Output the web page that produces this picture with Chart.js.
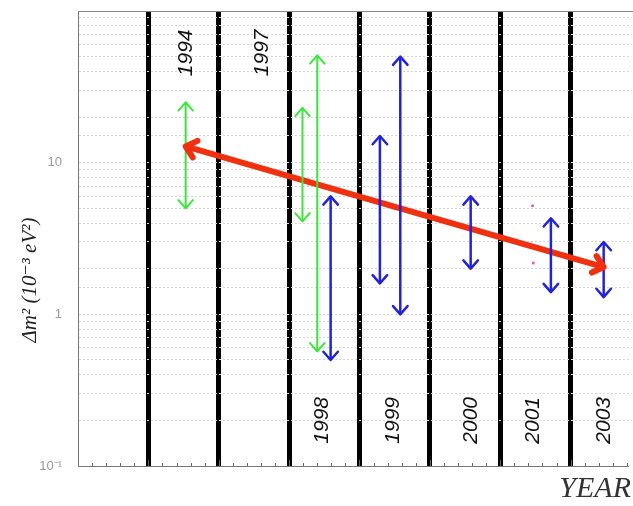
<!DOCTYPE html>
<html>
<head>
<meta charset="utf-8">
<script src="https://cdn.jsdelivr.net/npm/chart.js@4"></script>
<style>
  html, body { margin: 0; padding: 0; background: #fff; }
  canvas { display: block; }
</style>
</head>
<body>
<canvas id="chart" width="633" height="506"></canvas>
<script>
// measurement ranges (dm^2 in 1e-3 eV^2), one double arrow each
const arrowX = [1.53, 3.19, 3.40, 3.59, 4.29, 4.58, 5.58, 6.72, 7.47];
const arrowLow = [5.0, 4.1, 0.57, 0.5, 1.6, 1.0, 2.0, 1.4, 1.3];
const arrowHigh = [25, 23, 51, 6.0, 15, 50, 6.0, 4.3, 3.0];
const arrowKind = ['green', 'green', 'green', 'blue', 'blue', 'blue', 'blue', 'blue', 'blue'];

// red trend arrow
const trendX = [1.53, 7.47];
const trendY = [12.8, 2.05];

// stray pink points near 2001
const dotX = [6.46, 6.47];
const dotY = [5.2, 2.18];

// year labels
const years = ['1994', '1997', '1998', '1999', '2000', '2001', '2003'];
const yearX = [1.53, 2.62, 3.47, 4.48, 5.58, 6.47, 7.47];
const yearY = [53, 53, 0.2, 0.2, 0.2, 0.2, 0.2];

// y tick labels shown
const yTickLabels = { '0.1': '10⁻¹', '1': '1', '10': '10' };

const colors = { green: '#3ae63a', blue: '#2323d6', red: '#f0300f', pink: '#d860c8' };

const datasets = arrowX.map((x, i) => ({
  type: 'line',
  data: [{ x, y: arrowLow[i] }, { x, y: arrowHigh[i] }],
  borderColor: colors[arrowKind[i]],
  borderWidth: arrowKind[i] === 'blue' ? 2.5 : 2,
  pointRadius: 0,
  arrow: 11
}));

datasets.push({
  type: 'line',
  data: trendX.map((x, i) => ({ x, y: trendY[i] })),
  borderColor: colors.red,
  borderWidth: 6,
  pointRadius: 0,
  arrow: 13
});

datasets.push({
  type: 'scatter',
  data: dotX.map((x, i) => ({ x, y: dotY[i] })),
  backgroundColor: colors.pink,
  borderWidth: 0,
  pointRadius: 1.5
});

const decorPlugin = {
  id: 'decor',
  beforeDatasetsDraw(chart) {
    const { ctx, chartArea: a, scales: { x } } = chart;
    ctx.save();
    ctx.strokeStyle = '#888';
    ctx.lineWidth = 1;
    // top frame line
    ctx.beginPath();
    ctx.moveTo(a.left, a.top + 0.5);
    ctx.lineTo(chart.width, a.top + 0.5);
    ctx.stroke();
    // little inward ticks on the bottom axis
    ctx.strokeStyle = '#666';
    for (let v = 0.2; v < x.max; v += 0.2) {
      const px = Math.round(x.getPixelForValue(v)) + 0.5;
      const len = Math.abs(v * 2 - Math.round(v * 2)) < 0.01 ? 6 : 3;
      ctx.beginPath();
      ctx.moveTo(px, a.bottom);
      ctx.lineTo(px, a.bottom - len);
      ctx.stroke();
    }
    ctx.restore();
  },
  afterDatasetsDraw(chart) {
    const { ctx, scales: { x, y } } = chart;
    ctx.save();
    // arrow heads on both ends
    chart.data.datasets.forEach((ds, i) => {
      if (!ds.arrow) return;
      const pts = chart.getDatasetMeta(i).data;
      const p0 = pts[0], p1 = pts[pts.length - 1];
      const ang = Math.atan2(p1.y - p0.y, p1.x - p0.x);
      ctx.strokeStyle = ds.borderColor;
      ctx.lineWidth = ds.borderWidth;
      ctx.lineCap = 'round';
      ctx.lineJoin = 'round';
      [[p1, ang], [p0, ang + Math.PI]].forEach(([p, t]) => {
        const s = ds.arrow;
        ctx.beginPath();
        ctx.moveTo(p.x - s * Math.cos(t - 0.72), p.y - s * Math.sin(t - 0.72));
        ctx.lineTo(p.x, p.y);
        ctx.lineTo(p.x - s * Math.cos(t + 0.72), p.y - s * Math.sin(t + 0.72));
        ctx.stroke();
      });
    });

    // year labels
    ctx.fillStyle = '#111';
    ctx.font = 'italic 21px "Liberation Sans", Arial, sans-serif';
    ctx.textAlign = 'center';
    ctx.textBaseline = 'middle';
    years.forEach((t, i) => {
      ctx.save();
      ctx.translate(x.getPixelForValue(yearX[i]), y.getPixelForValue(yearY[i]));
      ctx.rotate(-Math.PI / 2);
      ctx.fillText(t, 0, 0);
      ctx.restore();
    });

    // axis titles
    ctx.fillStyle = '#222';
    ctx.font = 'italic 21px "Liberation Serif", "DejaVu Serif", serif';
    ctx.save();
    ctx.translate(30, 280);
    ctx.rotate(-Math.PI / 2);
    ctx.fillText('Δm² (10⁻³ eV²)', 0, 0);
    ctx.restore();

    ctx.fillStyle = '#333';
    ctx.font = 'italic 30px "Liberation Serif", "DejaVu Serif", serif';
    ctx.textAlign = 'right';
    ctx.fillText('YEAR', 631, 489);
    ctx.restore();
  }
};

new Chart(document.getElementById('chart').getContext('2d'), {
  data: { datasets },
  options: {
    responsive: false,
    animation: false,
    layout: { padding: { top: 11, right: 0, left: 0, bottom: 0 } },
    plugins: { legend: { display: false }, tooltip: { enabled: false } },
    scales: {
      x: {
        type: 'linear',
        min: 0,
        max: 7.83,
        afterFit: s => { s.height = 40; s.paddingLeft = 0; s.paddingRight = 0; },
        ticks: { display: false, stepSize: 1 },
        grid: {
          drawTicks: false,
          color: c => (Number.isInteger(c.tick.value) && c.tick.value >= 1 && c.tick.value <= 7) ? '#000' : 'rgba(0,0,0,0)',
          lineWidth: c => (Number.isInteger(c.tick.value) && c.tick.value >= 1 && c.tick.value <= 7) ? 5 : 0
        },
        border: { display: true, color: '#777', width: 1 }
      },
      y: {
        type: 'logarithmic',
        min: 0.1,
        max: 100,
        afterFit: s => { s.width = 78; s.paddingTop = 0; s.paddingBottom = 0; },
        ticks: {
          autoSkip: false,
          padding: 16,
          color: '#999',
          font: { family: '"Liberation Sans", Arial, sans-serif', size: 13 },
          callback: v => yTickLabels[String(Number(v.toPrecision(3)))] || ''
        },
        grid: {
          drawTicks: false,
          color: '#d6d6d6',
          lineWidth: 1
        },
        border: { display: true, color: '#777', width: 1, dash: [2, 2] }
      }
    }
  },
  plugins: [decorPlugin]
});
</script>
</body>
</html>
